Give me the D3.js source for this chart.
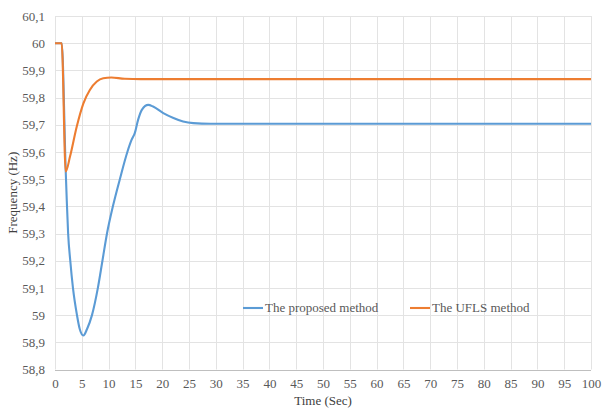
<!DOCTYPE html>
<html>
<head>
<meta charset="utf-8">
<script src="https://cdn.jsdelivr.net/npm/d3@7"></script>
<style>
  body { margin: 0; background: #fff; }
</style>
</head>
<body>
<div id="chart"></div>
<script>
// chart values
var proposedT = [0, 1, 1.25, 2.0, 2.2, 2.45, 2.85, 3.35, 4.1, 4.6, 5.3, 6.0, 6.9, 8.0, 8.85, 9.7, 10.8, 12.1, 13.5, 14.3, 14.9, 15.5, 16.2, 17.4, 18.3, 20.2, 22.1, 23.9, 25.8, 29, 40, 60, 80, 100];
var proposedF = [60, 60, 60, 59.53, 59.42, 59.3, 59.2, 59.1, 59.0, 58.95, 58.925, 58.95, 59.0, 59.1, 59.2, 59.3, 59.4, 59.5, 59.6, 59.645, 59.67, 59.718, 59.755, 59.773, 59.767, 59.743, 59.725, 59.712, 59.706, 59.704, 59.704, 59.704, 59.704, 59.704];

var uflsT = [0, 1, 1.25, 2.0, 2.8, 4.05, 5.3, 6.5, 7.8, 9.0, 10.5, 13, 16, 30, 60, 100];
var uflsF = [60, 60, 60, 59.528, 59.583, 59.693, 59.779, 59.828, 59.859, 59.871, 59.874, 59.869, 59.868, 59.868, 59.868, 59.868];

var xTicks = d3.range(0, 101, 5);
var yTicks = [58.8, 58.9, 59, 59.1, 59.2, 59.3, 59.4, 59.5, 59.6, 59.7, 59.8, 59.9, 60, 60.1];

var seriesNames = ["The proposed method", "The UFLS method"];
var seriesColors = ["#5b9bd5", "#ed7d31"];

var fontFamily = "\"Liberation Serif\"";

var svgWidth = 602;
var svgHeight = 408;

var chartMargin = { top: 16, right: 11, bottom: 38.5, left: 55 };

var chartWidth = svgWidth - chartMargin.left - chartMargin.right;
var chartHeight = svgHeight - chartMargin.top - chartMargin.bottom;

var svg = d3.select("#chart")
  .append("svg")
  .attr("width", svgWidth)
  .attr("height", svgHeight);

var chartGroup = svg.append("g")
  .attr("transform", "translate(" + chartMargin.left + "," + chartMargin.top + ")");

var xScale = d3.scaleLinear().domain([0, 100]).range([0, chartWidth]);
var yScale = d3.scaleLinear().domain([58.8, 60.1]).range([chartHeight, 0]);

var fmt = function(d) { return d3.format("~g")(+d.toFixed(1)).replace(".", ","); };

// grid lines
chartGroup.append("g")
  .selectAll("line")
  .data(yTicks)
  .enter().append("line")
  .attr("x1", 0).attr("x2", chartWidth)
  .attr("y1", d => Math.round(yScale(d)) + 0.5)
  .attr("y2", d => Math.round(yScale(d)) + 0.5)
  .attr("stroke", d => d === 58.8 ? "#bfbfbf" : "#e3e3e3");

chartGroup.append("g")
  .selectAll("line")
  .data(xTicks)
  .enter().append("line")
  .attr("y1", 0).attr("y2", chartHeight)
  .attr("x1", d => Math.round(xScale(d)) + 0.5)
  .attr("x2", d => Math.round(xScale(d)) + 0.5)
  .attr("stroke", "#e3e3e3");

// axes (labels only, Excel style)
var xAxis = d3.axisBottom(xScale).tickValues(xTicks).tickSize(0).tickPadding(9);
var yAxis = d3.axisLeft(yScale).tickValues(yTicks).tickSize(0).tickFormat(fmt).tickPadding(10);

var xg = chartGroup.append("g")
  .attr("transform", "translate(0," + chartHeight + ")")
  .call(xAxis);
var yg = chartGroup.append("g").call(yAxis);

[xg, yg].forEach(function(g) {
  g.select(".domain").remove();
  g.selectAll("text")
    .style("font-family", fontFamily)
    .style("font-size", "13px")
    .attr("fill", "#595959");
});

// lines
var series = [
  proposedT.map((t, i) => ({ t: t, f: proposedF[i] })),
  uflsT.map((t, i) => ({ t: t, f: uflsF[i] }))
];

var line = d3.line()
  .x(d => xScale(d.t))
  .y(d => yScale(d.f))
  .curve(d3.curveMonotoneX);

series.forEach(function(s, i) {
  chartGroup.append("path")
    .datum(s)
    .attr("fill", "none")
    .attr("stroke", seriesColors[i])
    .attr("stroke-width", 2.1)
    .attr("stroke-linejoin", "round")
    .attr("d", line);
});

// legend
var legendX = [188, 355];
var legendY = 292;
seriesNames.forEach(function(name, i) {
  var lg = chartGroup.append("g")
    .attr("transform", "translate(" + legendX[i] + "," + legendY + ")");
  lg.append("line")
    .attr("x1", 0).attr("x2", 20)
    .attr("y1", 0).attr("y2", 0)
    .attr("stroke", seriesColors[i])
    .attr("stroke-width", 2.1);
  lg.append("text")
    .attr("x", 22)
    .attr("y", 4)
    .style("font-family", fontFamily)
    .style("font-size", "13px")
    .attr("fill", "#595959")
    .text(name);
});

// axis titles
svg.append("text")
  .attr("x", chartMargin.left + chartWidth / 2)
  .attr("y", 405)
  .attr("text-anchor", "middle")
  .style("font-family", fontFamily)
  .style("font-size", "13px")
  .attr("fill", "#404040")
  .text("Time (Sec)");

svg.append("text")
  .attr("transform", "translate(17," + (chartMargin.top + chartHeight / 2) + ") rotate(-90)")
  .attr("text-anchor", "middle")
  .style("font-family", fontFamily)
  .style("font-size", "13px")
  .attr("fill", "#404040")
  .text("Frequency (Hz)");
</script>
</body>
</html>
